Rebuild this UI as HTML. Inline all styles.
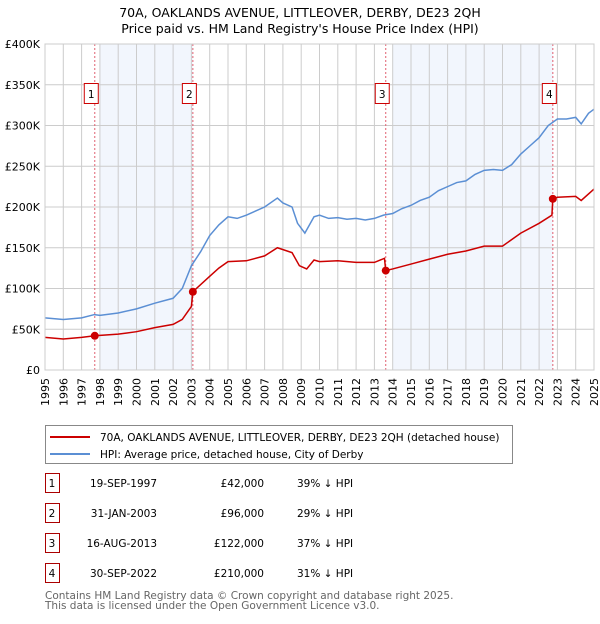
<!DOCTYPE html>
<html><head><meta charset="utf-8"><style>
body{margin:0;background:#fff;font-family:"DejaVu Sans","Liberation Sans",sans-serif;}
svg text{font-family:"DejaVu Sans","Liberation Sans",sans-serif;}
</style></head><body>
<svg width="600" height="620" viewBox="0 0 600 620">
<text x="300" y="17" text-anchor="middle" font-size="12.5">70A, OAKLANDS AVENUE, LITTLEOVER, DERBY, DE23 2QH</text>
<text x="300" y="33" text-anchor="middle" font-size="12.5">Price paid vs. HM Land Registry's House Price Index (HPI)</text>
<g id="plot"></g>
<g id="legend">
<rect x="45.5" y="425.5" width="467" height="38" fill="#fff" stroke="#888"/>
<line x1="50" y1="437" x2="90" y2="437" stroke="#cc0000" stroke-width="2"/>
<text x="100" y="441" font-size="10.5">70A, OAKLANDS AVENUE, LITTLEOVER, DERBY, DE23 2QH (detached house)</text>
<line x1="50" y1="454" x2="90" y2="454" stroke="#5b8fd4" stroke-width="2"/>
<text x="100" y="458" font-size="10.5">HPI: Average price, detached house, City of Derby</text>
</g>
<g id="table"></g>
<text x="45" y="599" font-size="10.5" fill="#666">Contains HM Land Registry data © Crown copyright and database right 2025.</text>
<text x="45" y="609" font-size="10.5" fill="#666">This data is licensed under the Open Government Licence v3.0.</text>
</svg>
<script>
const hpiYears=[1995,1996,1997,1997.7,1998,1999,2000,2001,2002,2002.5,2003,2003.5,2004,2004.5,2005,2005.5,2006,2006.5,2007,2007.7,2008,2008.5,2008.8,2009.2,2009.7,2010,2010.5,2011,2011.5,2012,2012.5,2013,2013.5,2014,2014.5,2015,2015.5,2016,2016.5,2017,2017.5,2018,2018.5,2019,2019.5,2020,2020.5,2021,2021.5,2022,2022.5,2023,2023.5,2024,2024.3,2024.7,2025];
const hpiValues=[64,62,64,68,67,70,75,82,88,100,128,145,165,178,188,186,190,195,200,211,205,200,180,168,188,190,186,187,185,186,184,186,190,192,198,202,208,212,220,225,230,232,240,245,246,245,252,265,275,285,300,308,308,310,302,315,320];
const propYears=[1995,1996,1997,1997.72,1999,2000,2001,2002,2002.5,2003.0,2003.08,2004,2004.5,2005,2006,2007,2007.7,2008.5,2008.9,2009.3,2009.7,2010,2011,2012,2013,2013.55,2013.62,2014,2015,2016,2017,2018,2019,2020,2020.5,2021,2022,2022.7,2022.75,2023,2024,2024.3,2025];
const propValues=[40,38,40,42,44,47,52,56,62,78,96,115,125,133,134,140,150,144,128,124,135,133,134,132,132,137,122,124,130,136,142,146,152,152,160,168,180,190,210,212,213,208,222];
const saleYears=[1997.72,2003.08,2013.62,2022.75];
const saleValues=[42,96,122,210];
const saleLabels=["1","2","3","4"];
const saleDates=["19-SEP-1997","31-JAN-2003","16-AUG-2013","30-SEP-2022"];
const salePrices=["£42,000","£96,000","£122,000","£210,000"];
const saleHpi=["39% ↓ HPI","29% ↓ HPI","37% ↓ HPI","31% ↓ HPI"];
const yTicks=[0,50,100,150,200,250,300,350,400];
const yTickLabels=["£0","£50K","£100K","£150K","£200K","£250K","£300K","£350K","£400K"];
const shadeRanges=[[1998,2003.08],[2014,2022.75]];

const NS="http://www.w3.org/2000/svg";
const X0=45,X1=594,Y0=370,Y1=44;
const xs=y=>X0+(y-1995)/30*(X1-X0);
const ys=v=>Y0-v/400*(Y0-Y1);
function mk(tag,attrs,parent){const e=document.createElementNS(NS,tag);for(const k in attrs)e.setAttribute(k,attrs[k]);parent.appendChild(e);return e;}
const plot=document.getElementById('plot');
const bg=mk('rect',{x:X0,y:Y1,width:X1-X0,height:Y0-Y1,fill:'#fff'},plot);


shadeRanges.forEach(r=>{const s=mk('rect',{x:xs(r[0]),y:Y1,width:xs(r[1])-xs(r[0]),height:Y0-Y1,fill:'#eef3fc',opacity:0.75},plot);

});
for(let y=1995;y<=2025;y++){const l=mk('line',{x1:xs(y),x2:xs(y),y1:Y1,y2:Y0,stroke:'#cccccc','stroke-width':1},plot);


const tx=xs(y)+4,ty=Y0+8;
const t=mk('text',{x:tx,y:ty,'font-size':11,'text-anchor':'end',transform:'rotate(-90 '+tx+' '+ty+')'},plot);t.textContent=y;

}
yTicks.forEach((v,i)=>{const l=mk('line',{x1:X0,x2:X1,y1:ys(v),y2:ys(v),stroke:'#cccccc','stroke-width':1},plot);


const t=mk('text',{x:X0-5,y:ys(v)+4,'font-size':11,'text-anchor':'end'},plot);t.textContent=yTickLabels[i];

});
saleYears.forEach((y,i)=>{const l=mk('line',{x1:xs(y),x2:xs(y),y1:Y1,y2:Y0,stroke:'#e06070','stroke-width':1,'stroke-dasharray':'2,2'},plot);


const b=mk('rect',{x:xs(y)-10.5,y:83.5,width:14,height:20,fill:'#fff',stroke:'#cc0000'},plot);


const t=mk('text',{x:xs(y)-3.5,y:98,'font-size':10.5,'text-anchor':'middle'},plot);t.textContent=saleLabels[i];

});
const hp=mk('polyline',{points:hpiYears.map((y,i)=>xs(y)+','+ys(hpiValues[i])).join(' '),fill:'none',stroke:'#5b8fd4','stroke-width':1.5},plot);


const pp=mk('polyline',{points:propYears.map((y,i)=>xs(y)+','+ys(propValues[i])).join(' '),fill:'none',stroke:'#cc0000','stroke-width':1.5},plot);


saleYears.forEach((y,i)=>{const c=mk('circle',{cx:xs(y),cy:ys(saleValues[i]),r:4,fill:'#cc0000'},plot);

});
const fr=mk('rect',{x:X0,y:Y1,width:X1-X0,height:Y0-Y1,fill:'none',stroke:'#cccccc'},plot);


const tb=document.getElementById('table');
saleLabels.forEach((s,i)=>{const cy=483+i*30;
const b=mk('rect',{x:45.5,y:cy-9.5,width:14,height:19,fill:'#fff',stroke:'#aa0000'},tb);


const cells=[[52,'middle',s],[157,'end',saleDates[i]],[264,'end',salePrices[i]],[297,'start',saleHpi[i]]];
cells.forEach(c=>{const t=mk('text',{x:c[0],y:cy+4,'font-size':10.5,'text-anchor':c[1]},tb);t.textContent=c[2];

});});
</script>
</body></html>
